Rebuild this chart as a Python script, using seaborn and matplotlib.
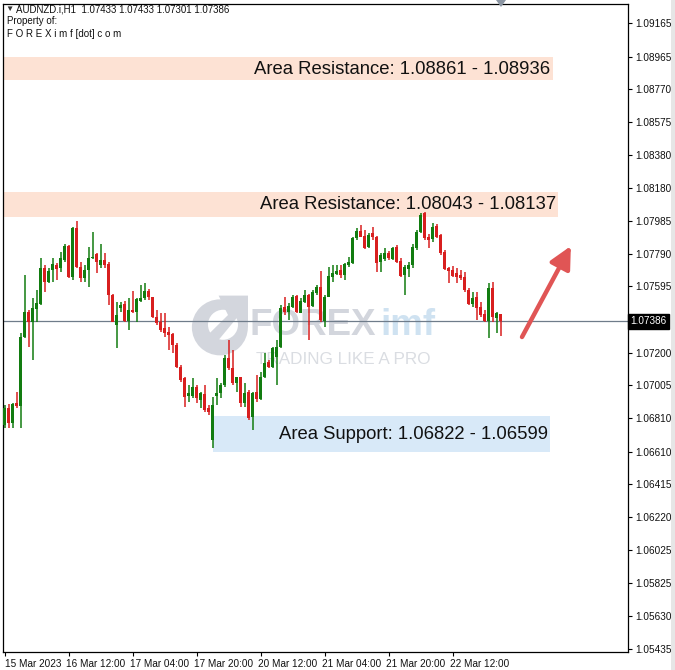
import numpy as np
import pandas as pd
import matplotlib
matplotlib.use("Agg")
import matplotlib.pyplot as plt
import matplotlib.transforms as mtransforms
import seaborn as sns
from matplotlib.patches import Rectangle, Ellipse, Polygon

sns.set_theme(style="white")
plt.rcParams['font.family'] = ['Liberation Sans', 'DejaVu Sans']

# AUDNZD H1 candles
opens = [
    1.06769, 1.06872, 1.06779, 1.06898, 1.06884, 1.07295, 1.07444, 1.07385, 1.07459, 1.07488,
    1.07707, 1.07623, 1.07693, 1.07723, 1.07703, 1.07752, 1.07838, 1.07653, 1.07941, 1.07712,
    1.07643, 1.07693, 1.07763, 1.07786, 1.07723, 1.07752, 1.07727, 1.07544, 1.07365, 1.07465,
    1.07488, 1.07389, 1.07454, 1.07443, 1.07510, 1.07524, 1.07569, 1.07530, 1.07415, 1.07380,
    1.07345, 1.07325, 1.07311, 1.07246, 1.07117, 1.07047, 1.06942, 1.06942, 1.06994, 1.06918,
    1.06954, 1.06869, 1.06680, 1.06940, 1.06958, 1.07007, 1.07167, 1.07107, 1.07017, 1.07053,
    1.06898, 1.06967, 1.06819, 1.06967, 1.06925, 1.07057, 1.07146, 1.07117, 1.07176, 1.07236,
    1.07470, 1.07444, 1.07474, 1.07538, 1.07438, 1.07504, 1.07544, 1.07478, 1.07554, 1.07590,
    1.07391, 1.07534, 1.07653, 1.07669, 1.07693, 1.07663, 1.07723, 1.07733, 1.07882, 1.07927,
    1.07895, 1.07832, 1.07911, 1.07891, 1.07742, 1.07758, 1.07792, 1.07758, 1.07832, 1.07746,
    1.07663, 1.07700, 1.07723, 1.07826, 1.07921, 1.08031, 1.07891, 1.07876, 1.07957, 1.07901,
    1.07802, 1.07703, 1.07690, 1.07673, 1.07663, 1.07653, 1.07573, 1.07488, 1.07530, 1.07474,
    1.07429, 1.07389, 1.07587, 1.07405, 1.07433]
highs = [
    1.06888, 1.06892, 1.06898, 1.06964, 1.07316, 1.07663, 1.07454, 1.07524, 1.07574, 1.07763,
    1.07723, 1.07703, 1.07763, 1.07733, 1.07802, 1.07846, 1.07842, 1.07951, 1.07985, 1.07742,
    1.07723, 1.07832, 1.07921, 1.07792, 1.07846, 1.07792, 1.07742, 1.07548, 1.07504, 1.07504,
    1.07508, 1.07524, 1.07568, 1.07524, 1.07603, 1.07613, 1.07578, 1.07534, 1.07454, 1.07435,
    1.07438, 1.07355, 1.07316, 1.07256, 1.07127, 1.07057, 1.07007, 1.07047, 1.07007, 1.06967,
    1.07007, 1.06888, 1.06938, 1.07047, 1.07017, 1.07186, 1.07276, 1.07216, 1.07057, 1.07057,
    1.07017, 1.06977, 1.06967, 1.07067, 1.07087, 1.07196, 1.07156, 1.07236, 1.07276, 1.07484,
    1.07534, 1.07494, 1.07544, 1.07544, 1.07524, 1.07574, 1.07550, 1.07574, 1.07603, 1.07689,
    1.07544, 1.07712, 1.07723, 1.07723, 1.07723, 1.07737, 1.07768, 1.07891, 1.07941, 1.07961,
    1.07931, 1.07911, 1.07951, 1.07895, 1.07792, 1.07826, 1.07806, 1.07832, 1.07842, 1.07763,
    1.07723, 1.07738, 1.07846, 1.07931, 1.08031, 1.08041, 1.07906, 1.07971, 1.07965, 1.07906,
    1.07812, 1.07712, 1.07718, 1.07706, 1.07693, 1.07683, 1.07584, 1.07564, 1.07560, 1.07500,
    1.07454, 1.07613, 1.07620, 1.07444, 1.07433]
lows = [
    1.06749, 1.06749, 1.06749, 1.06869, 1.06749, 1.07286, 1.07236, 1.07156, 1.07385, 1.07484,
    1.07563, 1.07613, 1.07623, 1.07633, 1.07683, 1.07742, 1.07643, 1.07633, 1.07703, 1.07623,
    1.07623, 1.07593, 1.07758, 1.07673, 1.07703, 1.07703, 1.07484, 1.07381, 1.07226, 1.07444,
    1.07385, 1.07335, 1.07437, 1.07385, 1.07504, 1.07514, 1.07514, 1.07405, 1.07365, 1.07325,
    1.07295, 1.07216, 1.07196, 1.07107, 1.07027, 1.06878, 1.06908, 1.06928, 1.06898, 1.06869,
    1.06848, 1.06829, 1.06630, 1.06888, 1.06928, 1.06997, 1.07097, 1.07007, 1.06967, 1.06878,
    1.06878, 1.06799, 1.06739, 1.06908, 1.06915, 1.07047, 1.07107, 1.07107, 1.07007, 1.07226,
    1.07425, 1.07395, 1.07465, 1.07435, 1.07435, 1.07494, 1.07276, 1.07470, 1.07544, 1.07385,
    1.07355, 1.07530, 1.07623, 1.07663, 1.07643, 1.07633, 1.07712, 1.07729, 1.07872, 1.07887,
    1.07816, 1.07825, 1.07872, 1.07683, 1.07683, 1.07746, 1.07752, 1.07752, 1.07733, 1.07653,
    1.07544, 1.07653, 1.07703, 1.07812, 1.07911, 1.07872, 1.07822, 1.07862, 1.07882, 1.07782,
    1.07693, 1.07613, 1.07653, 1.07613, 1.07633, 1.07563, 1.07484, 1.07474, 1.07395, 1.07415,
    1.07385, 1.07289, 1.07385, 1.07316, 1.07301]
closes = [
    1.06869, 1.06779, 1.06892, 1.06884, 1.07295, 1.07444, 1.07385, 1.07465, 1.07498, 1.07707,
    1.07623, 1.07687, 1.07727, 1.07699, 1.07763, 1.07838, 1.07653, 1.07941, 1.07712, 1.07643,
    1.07693, 1.07763, 1.07772, 1.07742, 1.07752, 1.07723, 1.07544, 1.07385, 1.07425, 1.07484,
    1.07389, 1.07454, 1.07443, 1.07518, 1.07524, 1.07569, 1.07530, 1.07415, 1.07375, 1.07335,
    1.07316, 1.07305, 1.07246, 1.07113, 1.07037, 1.06938, 1.06958, 1.06997, 1.06928, 1.06958,
    1.06858, 1.06848, 1.06888, 1.06958, 1.07007, 1.07167, 1.07107, 1.07017, 1.07053, 1.06898,
    1.06958, 1.06809, 1.06958, 1.06922, 1.07057, 1.07137, 1.07117, 1.07226, 1.07236, 1.07465,
    1.07444, 1.07478, 1.07534, 1.07444, 1.07508, 1.07544, 1.07470, 1.07564, 1.07590, 1.07395,
    1.07534, 1.07657, 1.07673, 1.07689, 1.07663, 1.07729, 1.07742, 1.07882, 1.07927, 1.07891,
    1.07822, 1.07901, 1.07891, 1.07733, 1.07782, 1.07792, 1.07763, 1.07826, 1.07742, 1.07659,
    1.07712, 1.07723, 1.07832, 1.07921, 1.08021, 1.07882, 1.07872, 1.07951, 1.07891, 1.07792,
    1.07699, 1.07687, 1.07659, 1.07653, 1.07643, 1.07573, 1.07488, 1.07524, 1.07465, 1.07425,
    1.07389, 1.07587, 1.07415, 1.07435, 1.07386]

# hourly bars, weekend skipped
times = pd.date_range("2023-03-15 20:00", "2023-03-23 00:00", freq="h")
times = times[times.dayofweek < 5]

# right axis labels as printed by the terminal
ytick_labels = ["1.09165", "1.08965", "1.08770", "1.08575", "1.08380", "1.08180", "1.07985",
                "1.07790", "1.07595", "1.07200", "1.07005", "1.06810", "1.06610", "1.06415",
                "1.06220", "1.06025", "1.05825", "1.05630", "1.05435"]

# zones: label, low, high, first bar, last bar
zone_labels = ["Area Resistance: 1.08861 - 1.08936",
               "Area Resistance: 1.08043 - 1.08137",
               "Area Support: 1.06822 - 1.06599"]
zone_low = [1.08825, 1.08009, 1.06608]
zone_high = [1.08962, 1.08158, 1.06823]
zone_start = [-0.4, -0.4, 52.2]
zone_end = [137.1, 138.4, 136.4]
zone_kind = ["res", "res", "sup"]

GREEN = "#127c10"
RED = "#d81f1f"
zone_colors = {"res": "#fde2d4", "sup": "#d8e9f8"}

fig = plt.figure(figsize=(6.75, 6.70), dpi=100)
fig.patch.set_facecolor("white")
ax = fig.add_axes([3 / 675, 18 / 670, 625 / 675, 648 / 670])
ax.set_facecolor("white")

o = np.array(opens); h = np.array(highs); l = np.array(lows); c = np.array(closes)
idx = np.arange(len(o))
up = c >= o
col = np.where(up, GREEN, RED)

# zones
for lab, lo, hi, x0, x1, k in zip(zone_labels, zone_low, zone_high, zone_start, zone_end, zone_kind):
    ax.add_patch(Rectangle((x0, lo), x1 - x0, hi - lo, facecolor=zone_colors[k],
                           edgecolor="none", zorder=0))
    ax.text(x1 - 0.6, (lo + hi) / 2 - 0.00003, lab, ha="right", va="center",
            fontsize=13.3, color="#111111", zorder=1)

# watermark
wm_gray = "#d3d6dd"
ax.add_patch(Ellipse((0.347, 0.501), 56 / 625, 56 / 648, transform=ax.transAxes,
                     facecolor=wm_gray, edgecolor="none", zorder=0.5))
ax.add_patch(Ellipse((0.352, 0.505), 30 / 625, 30 / 648, transform=ax.transAxes,
                     facecolor="white", edgecolor="none", zorder=0.6))
ax.add_patch(Polygon([(0.318, 0.48), (0.36, 0.52), (0.345, 0.55), (0.392, 0.55),
                      (0.392, 0.50), (0.378, 0.52), (0.335, 0.47)], closed=True,
                     transform=ax.transAxes, facecolor=wm_gray, edgecolor="none", zorder=0.7))
ax.text(0.395, 0.504, "FOREX", transform=ax.transAxes, fontsize=26.5, fontweight="bold",
        color=wm_gray, ha="left", va="center", zorder=0.5)
ax.text(0.604, 0.504, "imf", transform=ax.transAxes, fontsize=26.5, fontweight="bold",
        color="#cfe2f1", ha="left", va="center", zorder=0.5)
ax.text(0.405, 0.452, "TRADING LIKE A PRO", transform=ax.transAxes, fontsize=12.3,
        color="#dadde2", ha="left", va="center", zorder=0.5)

# candles
ax.vlines(idx, l, h, colors=col, linewidth=1.1, zorder=2)
body = np.maximum(np.abs(c - o), 0.000025)
ax.bar(idx, body, bottom=np.minimum(o, c), width=0.76, color=col, linewidth=0, zorder=3)

# current price line
ax.axhline(c[-1], color="#6f7c8a", linewidth=0.9, zorder=1.5)

# arrow
ax.annotate("", xy=(0.9086, 0.6265), xytext=(0.8304, 0.4861), xycoords="axes fraction",
            textcoords="axes fraction",
            arrowprops=dict(arrowstyle="-|>,head_length=1.1,head_width=0.55",
                            color="#e05555", lw=3.2, shrinkA=0, shrinkB=0), zorder=4)

ax.set_xlim(-0.4, 155.85)
ax.set_ylim(1.05416, 1.09278)

# axes styling
for s in ax.spines.values():
    s.set_visible(True)
    s.set_color("black")
    s.set_linewidth(0.9)

yt = [float(v) for v in ytick_labels]
ax.yaxis.tick_right()
ax.set_yticks(yt)
ax.set_yticklabels(ytick_labels)
ax.tick_params(axis="y", right=True, left=False, length=3, width=0.8, color="black",
               labelsize=7.2, pad=2, labelcolor="#111111")

xt = list(range(0, len(times), 16))
xl = []
for i in xt:
    t = times[i]
    xl.append(t.strftime("%d %b %Y") if i == 0 else t.strftime("%d %b %H:%M"))
ax.set_xticks(xt)
ax.set_xticklabels(xl, ha="left")
ax.tick_params(axis="x", bottom=True, length=3, width=0.8, color="black",
               labelsize=7.2, pad=2, labelcolor="#111111")
shift = mtransforms.ScaledTranslation(-3 / 100, 0, fig.dpi_scale_trans)
for lbl in ax.get_xticklabels()[1:]:
    lbl.set_transform(lbl.get_transform() + shift)
ax.grid(False)

# current price tag
ax.text(1.004, c[-1], f"{c[-1]:.5f}", transform=ax.get_yaxis_transform(), fontsize=7.2,
        color="white", ha="left", va="center", zorder=5, clip_on=False,
        bbox=dict(boxstyle="square,pad=0.25", facecolor="black", edgecolor="black"))

# header
fig.text(5 / 675, 1 - 9 / 670, "\u25BC", fontsize=6, color="#333333", va="center")
fig.text(16 / 675, 1 - 9 / 670,
         f"AUDNZD.i,H1  {o[-1]:.5f} {h[-1]:.5f} {l[-1]:.5f} {c[-1]:.5f}",
         fontsize=7, color="#111111", va="center")
fig.text(7 / 675, 1 - 21 / 670, "Property of:", fontsize=7, color="#111111", va="center")
fig.text(7 / 675, 1 - 34 / 670, "F O R E X i m f [dot] c o m", fontsize=7,
         color="#111111", va="center")

# chart shift marker and right border strip
fig.patches.append(Polygon([(496 / 675, 1.0), (506 / 675, 1.0), (501 / 675, 1 - 7 / 670)],
                           closed=True, transform=fig.transFigure, facecolor="#8c96a3",
                           edgecolor="none"))
fig.patches.append(Rectangle((671 / 675, 0), 4 / 675, 1, transform=fig.transFigure,
                             facecolor="#e6e6e6", edgecolor="none"))

fig.savefig("out.png", dpi=100, facecolor="white")
